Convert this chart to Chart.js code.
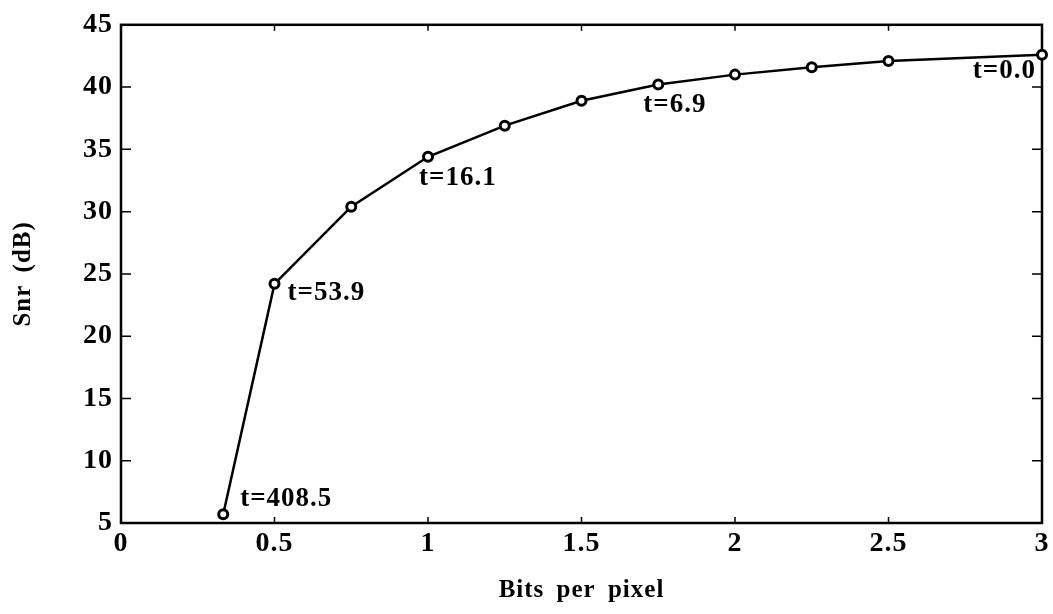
<!DOCTYPE html>
<html>
<head>
<meta charset="utf-8">
<script src="https://cdn.jsdelivr.net/npm/chart.js@4/dist/chart.umd.min.js"></script>
<style>
    html, body { margin: 0; padding: 0; background: #fff; }
    #wrap { width: 1053px; height: 614px; }
</style>
</head>
<body>
<div id="wrap"><canvas id="snrChart" width="1053" height="614"></canvas></div>
<script>
// values
const bitsPerPixel = [0.333, 0.5, 0.75, 1.0, 1.25, 1.5, 1.75, 2.0, 2.25, 2.5, 3.0];
const snrDb = [5.7, 24.2, 30.4, 34.4, 36.9, 38.9, 40.2, 41.0, 41.6, 42.1, 42.6];

// threshold annotations: which point, and its text
const labelIndex = [0, 1, 3, 6, 10];
const labelText = ['t=408.5', 't=53.9', 't=16.1', 't=6.9', 't=0.0'];

const xTicks = [0, 0.5, 1, 1.5, 2, 2.5, 3];
const yTicks = [5, 10, 15, 20, 25, 30, 35, 40, 45];

const serif = '"Liberation Serif", "DejaVu Serif", serif';

// where each annotation sits relative to its point
const labelOffset = {
    0: { dx: 17, dy: -15, align: 'left' },
    1: { dx: 13, dy: 9, align: 'left' },
    3: { dx: -9, dy: 21, align: 'left' },
    6: { dx: -15, dy: 20, align: 'left' },
    10: { dx: -6, dy: 16, align: 'right' }
};

const framePlugin = {
    id: 'frame',
    beforeDraw(chart) {
        // the scanned text is a bit wider than plain Times
        chart.ctx.wordSpacing = '5px';
        chart.ctx.letterSpacing = '1px';
    },
    beforeDatasetsDraw(chart) {
        const { ctx, chartArea: a, scales } = chart;
        ctx.save();
        ctx.strokeStyle = '#000';
        ctx.lineWidth = 2.5;
        ctx.strokeRect(a.left, a.top, a.right - a.left, a.bottom - a.top);
        ctx.lineWidth = 1.5;
        ctx.beginPath();
        xTicks.forEach(v => {
            const px = scales.x.getPixelForValue(v);
            ctx.moveTo(px, a.bottom); ctx.lineTo(px, a.bottom - 6);
            ctx.moveTo(px, a.top); ctx.lineTo(px, a.top + 6);
        });
        yTicks.forEach(v => {
            const py = scales.y.getPixelForValue(v);
            ctx.moveTo(a.left, py); ctx.lineTo(a.left + 10, py);
            ctx.moveTo(a.right, py); ctx.lineTo(a.right - 10, py);
        });
        ctx.stroke();
        ctx.restore();
    },
    afterDatasetsDraw(chart) {
        const { ctx } = chart;
        const meta = chart.getDatasetMeta(0);
        ctx.save();
        ctx.fillStyle = '#000';
        ctx.font = 'bold 27px ' + serif;
        ctx.textBaseline = 'middle';
        labelIndex.forEach((idx, i) => {
            const pt = meta.data[idx];
            const off = labelOffset[idx];
            ctx.textAlign = off.align;
            ctx.fillText(labelText[i], pt.x + off.dx, pt.y + off.dy);
        });
        ctx.restore();
    }
};

new Chart(document.getElementById('snrChart').getContext('2d'), {
    type: 'line',
    data: {
        datasets: [{
            data: bitsPerPixel.map((b, i) => ({ x: b, y: snrDb[i] })),
            borderColor: '#000',
            borderWidth: 2.5,
            pointRadius: 4.5,
            pointBorderWidth: 3,
            pointBorderColor: '#000',
            pointBackgroundColor: '#fff',
            tension: 0,
            clip: false
        }]
    },
    options: {
        responsive: false,
        animation: false,
        layout: { padding: { left: 0, right: 10, top: 23, bottom: 0 } },
        plugins: {
            legend: { display: false },
            tooltip: { enabled: false }
        },
        scales: {
            x: {
                type: 'linear',
                min: 0,
                max: 3,
                afterFit(scale) { scale.height = 91; },
                afterBuildTicks(scale) { scale.ticks = xTicks.map(v => ({ value: v })); },
                grid: { display: false, drawTicks: false },
                border: { display: false },
                ticks: {
                    padding: 4,
                    color: '#000',
                    maxRotation: 0,
                    callback: v => String(v),
                    font: { family: serif, size: 28, weight: 'bold' }
                },
                title: {
                    display: true,
                    text: 'Bits per pixel',
                    color: '#000',
                    padding: { top: 0, bottom: 8 },
                    font: { family: serif, size: 25, weight: 'bold' }
                }
            },
            y: {
                min: 5,
                max: 45,
                afterFit(scale) { scale.width = 121; },
                afterBuildTicks(scale) { scale.ticks = yTicks.map(v => ({ value: v })); },
                grid: { display: false, drawTicks: false },
                border: { display: false },
                ticks: {
                    padding: 8,
                    color: '#000',
                    callback: v => String(v),
                    font: { family: serif, size: 28, weight: 'bold' }
                },
                title: {
                    display: true,
                    text: 'Snr (dB)',
                    color: '#000',
                    padding: { top: 9, bottom: 0 },
                    font: { family: serif, size: 25, weight: 'bold' }
                }
            }
        }
    },
    plugins: [framePlugin]
});
</script>
</body>
</html>
